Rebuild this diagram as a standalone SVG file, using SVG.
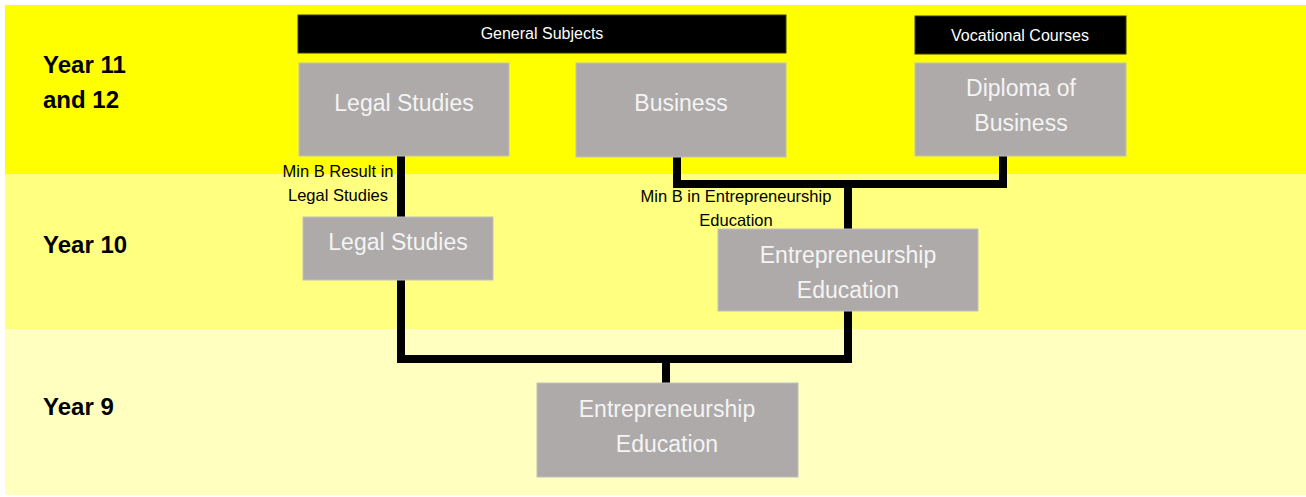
<svg xmlns="http://www.w3.org/2000/svg" width="1306" height="497" viewBox="0 0 1306 497">
<style>
.band{stroke:none}
.hdr{fill:#000000;stroke:#3a3a00;stroke-width:1}
.hdrt{fill:#ffffff;font-family:"Liberation Sans",Arial,sans-serif;font-size:16px;text-anchor:middle}
.box{fill:#AEAAAA;stroke:#BFBFBF;stroke-width:1}
.boxt{fill:#F4F4F4;font-family:"Liberation Sans",Arial,sans-serif;font-size:23px;text-anchor:middle}
.yr{fill:#000000;font-family:"Liberation Sans",Arial,sans-serif;font-size:24px;font-weight:bold}
.lbl{fill:#000000;font-family:"Liberation Sans",Arial,sans-serif;font-size:16.5px;text-anchor:middle}
.conn{fill:none;stroke:#000000;stroke-width:8;stroke-linejoin:miter;stroke-linecap:butt}
</style>
<rect width="1306" height="497" fill="#ffffff"/>
<g id="bands">
<rect class="band" x="5" y="5" width="1301" height="169" fill="#FFFF00"/>
<rect class="band" x="5" y="174" width="1301" height="155" fill="#FFFF80"/>
<rect class="band" x="5" y="329" width="1301" height="166" fill="#FFFFC0"/>
</g>
<g id="year-labels">
<text class="yr" x="43" y="73">Year 11</text>
<text class="yr" x="43" y="108">and 12</text>
<text class="yr" x="43" y="253">Year 10</text>
<text class="yr" x="43" y="415">Year 9</text>
</g>
<g id="connectors">
<path class="conn" d="M401,156 V217"/>
<path class="conn" d="M677,157 V184 H1003 V156"/>
<path class="conn" d="M848,184 V229"/>
<path class="conn" d="M401,280 V359 H848 V311"/>
<path class="conn" d="M666,359 V383"/>
</g>
<g id="general-subjects">
<rect class="hdr" x="298" y="15" width="488" height="38"/>
<text class="hdrt" x="542" y="39">General Subjects</text>
</g>
<g id="vocational-courses">
<rect class="hdr" x="915" y="16" width="211" height="38"/>
<text class="hdrt" x="1020" y="41">Vocational Courses</text>
</g>
<g id="legal-studies-11">
<rect class="box" x="299" y="63" width="210" height="93"/>
<text class="boxt" x="404" y="111">Legal Studies</text>
</g>
<g id="business-11">
<rect class="box" x="576" y="63" width="210" height="94"/>
<text class="boxt" x="681" y="111">Business</text>
</g>
<g id="diploma-business">
<rect class="box" x="915" y="63" width="211" height="93"/>
<text class="boxt" x="1021" y="96">Diploma of</text>
<text class="boxt" x="1021" y="131">Business</text>
</g>
<g id="legal-studies-10">
<rect class="box" x="303" y="217" width="190" height="63"/>
<text class="boxt" x="398" y="250">Legal Studies</text>
</g>
<g id="entrepreneurship-10">
<rect class="box" x="718" y="229" width="260" height="82"/>
<text class="boxt" x="848" y="263">Entrepreneurship</text>
<text class="boxt" x="848" y="298">Education</text>
</g>
<g id="entrepreneurship-9">
<rect class="box" x="537" y="383" width="261" height="94"/>
<text class="boxt" x="667" y="417">Entrepreneurship</text>
<text class="boxt" x="667" y="452">Education</text>
</g>
<g id="edge-labels">
<text class="lbl" x="338" y="177">Min B Result in</text>
<text class="lbl" x="338" y="201">Legal Studies</text>
<text class="lbl" x="736" y="202">Min B in Entrepreneurship</text>
<text class="lbl" x="736" y="226">Education</text>
</g>
</svg>
